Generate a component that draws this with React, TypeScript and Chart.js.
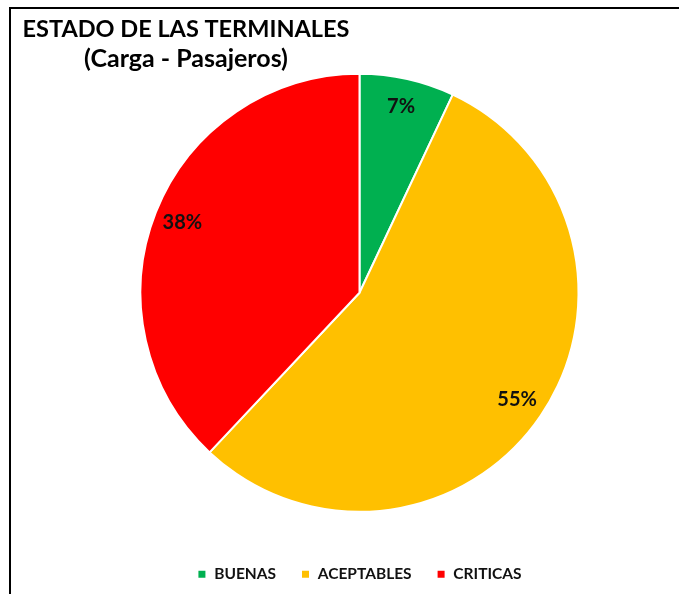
import React, { useEffect, useRef } from "react";
import { Chart, registerables } from "chart.js";

Chart.register(...registerables);

const categories = ["BUENAS", "ACEPTABLES", "CRITICAS"];
const values = [7, 55, 38];
const colors = ["#00B050", "#FFC000", "#FF0000"];
const titleLines = ["ESTADO DE LAS TERMINALES", "(Carga - Pasajeros)"];

const FONT = "Lato, 'Open Sans', sans-serif";

export default function App() {
  const ref = useRef<HTMLCanvasElement>(null);

  useEffect(() => {
    if (!ref.current) return;

    const titlePlugin = {
      id: "titleText",
      afterDraw(chart: any) {
        const ctx = chart.ctx;
        ctx.save();
        ctx.fillStyle = "#000";
        ctx.font = `bold 23.5px ${FONT}`;
        ctx.textAlign = "center";
        ctx.textBaseline = "alphabetic";
        ctx.fillText(titleLines[0], 186, 37);
        ctx.font = `bold 25px ${FONT}`;
        ctx.fillText(titleLines[1], 186, 67);
        ctx.restore();
      },
    };

    const labelPlugin = {
      id: "sliceLabels",
      afterDatasetsDraw(chart: any) {
        const ctx = chart.ctx;
        const meta = chart.getDatasetMeta(0);
        const total = values.reduce((a, b) => a + b, 0);
        ctx.save();
        ctx.fillStyle = "#111";
        ctx.font = `bold 20px ${FONT}`;
        ctx.textAlign = "center";
        ctx.textBaseline = "middle";
        meta.data.forEach((arc: any, i: number) => {
          const p = arc.getProps(["x", "y", "startAngle", "endAngle", "outerRadius"], true);
          const mid = (p.startAngle + p.endAngle) / 2;
          const r = p.outerRadius * 0.87;
          ctx.fillText(
            `${Math.round((values[i] / total) * 100)}%`,
            p.x + Math.cos(mid) * r,
            p.y + Math.sin(mid) * r
          );
        });
        ctx.restore();
      },
    };

    const chart = new Chart(ref.current, {
      type: "pie",
      data: {
        labels: categories,
        datasets: [
          {
            data: values,
            backgroundColor: colors,
            borderColor: "#ffffff",
            borderWidth: 2,
            radius: 219,
          },
        ],
      },
      options: {
        responsive: false,
        animation: false,
        layout: { padding: { top: 44, bottom: 13, left: 40, right: 0 } },
        plugins: {
          legend: {
            position: "bottom",
            labels: {
              boxWidth: 9,
              boxHeight: 9,
              padding: 25,
              color: "#111",
              font: { family: FONT, size: 15.5, weight: "bold" },
            },
          },
          title: { display: false },
          tooltip: { enabled: false },
        },
      },
      plugins: [titlePlugin, labelPlugin],
    } as any);

    return () => chart.destroy();
  }, []);

  return (
    <div
      style={{
        position: "fixed",
        left: 0,
        top: 0,
        width: 679,
        height: 594,
        overflow: "hidden",
        background: "#fff",
      }}
    >
      <canvas
        ref={ref}
        width={679}
        height={605}
        style={{ position: "absolute", left: 0, top: 0, width: 679, height: 605 }}
      />
      <div
        style={{
          position: "absolute",
          left: 9,
          top: 7,
          width: 680,
          height: 600,
          borderTop: "2px solid #000",
          borderLeft: "2px solid #000",
          pointerEvents: "none",
        }}
      />
    </div>
  );
}
